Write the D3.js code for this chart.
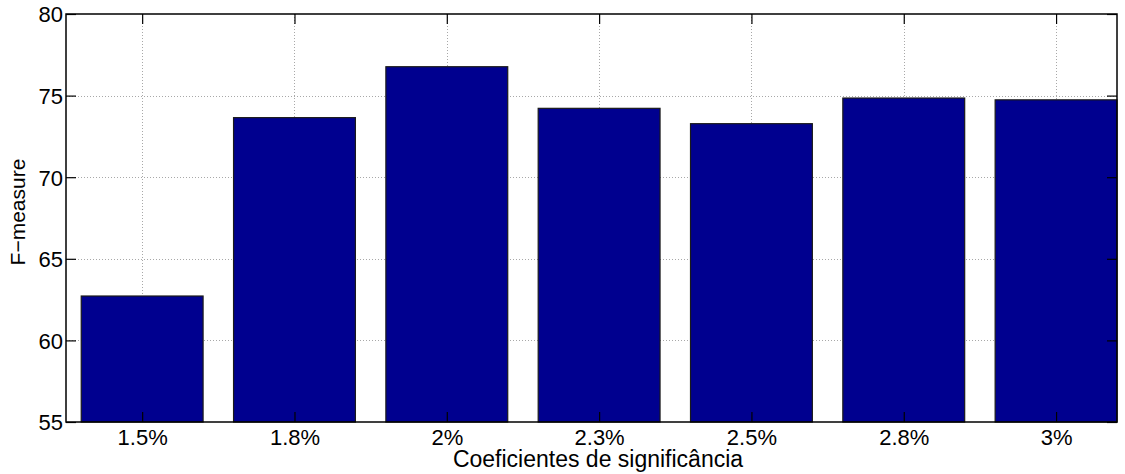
<!DOCTYPE html>
<html>
<head>
<meta charset="utf-8">
<script src="https://cdn.jsdelivr.net/npm/d3@7"></script>
<style>
  html, body { margin: 0; padding: 0; background: #fff; }
  text { font-family: "Liberation Sans", Arial, Helvetica, sans-serif; fill: #000; }
</style>
</head>
<body>
<svg id="chart" width="1125" height="474"></svg>
<script>
const categories = ["1.5%", "1.8%", "2%", "2.3%", "2.5%", "2.8%", "3%"];
const values = [62.72, 73.65, 76.77, 74.22, 73.28, 74.85, 74.74];
const yTicks = [55, 60, 65, 70, 75, 80];
const xLabel = "Coeficientes de significância";
const yLabel = "F\u2212measure";

const svg = d3.select("#chart");
const L = 66, R = 1117, T = 14, B = 422;

const x = d3.scaleLinear().domain([0.5, 7.4]).range([L, R]);
const y = d3.scaleLinear().domain([55, 80]).range([B, T]);
const idx = categories.map((c, i) => i + 1);
const barW = 0.8;

const gridColor = "#a8a8a8";
// grid
const grid = svg.append("g");
grid.selectAll("line.gy").data(yTicks.slice(1, -1)).join("line")
  .attr("x1", L).attr("x2", R)
  .attr("y1", d => Math.round(y(d)) + 0.5).attr("y2", d => Math.round(y(d)) + 0.5)
  .attr("stroke", gridColor).attr("stroke-width", 1).attr("stroke-dasharray", "1,2");
grid.selectAll("line.gx").data(idx).join("line")
  .attr("x1", d => Math.round(x(d)) + 0.5).attr("x2", d => Math.round(x(d)) + 0.5)
  .attr("y1", T).attr("y2", B)
  .attr("stroke", gridColor).attr("stroke-width", 1).attr("stroke-dasharray", "1,2");

// bars
svg.append("g").selectAll("rect").data(values).join("rect")
  .attr("x", (d, i) => x(i + 1 - barW / 2))
  .attr("width", (d, i) => x(i + 1 + barW / 2) - x(i + 1 - barW / 2))
  .attr("y", d => y(d))
  .attr("height", d => y(55) - y(d))
  .attr("fill", "#00008f")
  .attr("stroke", "#1a1a1a").attr("stroke-width", 1.2);

// axes box
const tickLen = 10;
const axL = svg.append("g").attr("transform", `translate(${L},0)`)
  .call(d3.axisLeft(y).tickValues(yTicks).tickSize(-tickLen).tickPadding(3).tickFormat(d3.format("d")));
const axR = svg.append("g").attr("transform", `translate(${R},0)`)
  .call(d3.axisRight(y).tickValues(yTicks).tickSize(-tickLen).tickFormat(""));
const axB = svg.append("g").attr("transform", `translate(0,${B})`)
  .call(d3.axisBottom(x).tickValues(idx).tickSize(-tickLen).tickPadding(7).tickFormat((d, i) => categories[i]));
const axT = svg.append("g").attr("transform", `translate(0,${T})`)
  .call(d3.axisTop(x).tickValues(idx).tickSize(-tickLen).tickFormat(""));
[axL, axR, axB, axT].forEach(a => {
  a.select(".domain").remove();
  a.selectAll("line").attr("stroke", "#000").attr("stroke-width", 1.2);
  a.selectAll("text").style("font-family", '"Liberation Sans", Arial, sans-serif').attr("font-size", 22).attr("fill", "#000");
});
axL.selectAll("text").attr("dy", "0.36em");
svg.append("rect").attr("x", L).attr("y", T).attr("width", R - L).attr("height", B - T)
  .attr("fill", "none").attr("stroke", "#000").attr("stroke-width", 1.5);

// labels
svg.append("text").attr("x", 598).attr("y", 467).attr("text-anchor", "middle")
  .attr("font-size", 23).text(xLabel);
svg.append("text").attr("transform", "translate(25,212) rotate(-90)").attr("text-anchor", "middle")
  .attr("font-size", 21).text(yLabel);
</script>
</body>
</html>
